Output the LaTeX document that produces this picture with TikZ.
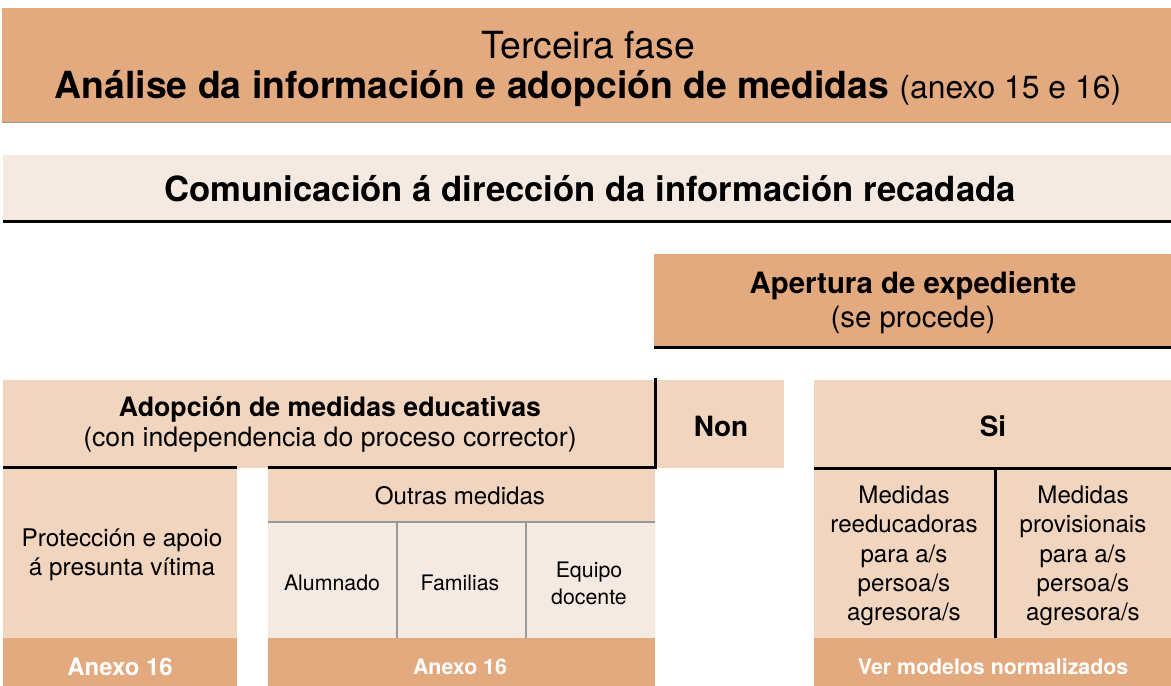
\documentclass[tikz,border=0pt]{standalone}
\usepackage{fontspec}
\setmainfont{TeX Gyre Heros}
\definecolor{dark}{HTML}{E3AA80}
\definecolor{mid}{HTML}{F1D5BF}
\definecolor{light}{HTML}{F5EAE1}
\definecolor{grayline}{HTML}{999999}
\tikzset{
  txt/.style={inner sep=0pt, align=center, text=black},
  wtxt/.style={inner sep=0pt, align=center, text=white},
  thick line/.style={line width=3bp, black},
  thin gray/.style={line width=1.2bp, grayline},
}
\begin{document}
\begin{tikzpicture}[x=1bp,y=-1bp]
\useasboundingbox (0,0) rectangle (1171,686);
% fills
\fill[dark]  (2,8) rectangle (1171,122);
\fill[light] (3,155) rectangle (1171,221);
\fill[dark]  (654,254) rectangle (1171,347);
\fill[mid]   (3,380) rectangle (655,468);
\fill[mid]   (657,380) rectangle (784,468);
\fill[mid]   (814,380) rectangle (1171,468);
\fill[mid]   (3,468) rectangle (237,638);
\fill[mid]   (268,468) rectangle (655,522);
\fill[light] (268,522) rectangle (655,638);
\fill[mid]   (814,468) rectangle (1171,638);
\fill[dark]  (3,638) rectangle (237,686);
\fill[dark]  (268,638) rectangle (655,686);
\fill[dark]  (814,638) rectangle (1171,686);
% lines
\coordinate (b1l) at (2,122.5); \coordinate (b1r) at (1171,122.5);
\draw[thin gray] (b1l) -- (b1r);
\coordinate (b2l) at (3,221); \coordinate (b2r) at (1171,221);
\draw[thick line] (b2l) -- (b2r);
\coordinate (apl) at (654,347); \coordinate (apr) at (1171,347);
\draw[thick line] (apl) -- (apr);
\coordinate (adt) at (655,378); \coordinate (adb) at (655,468.5);
\draw[thick line] (adt) -- (adb);
\coordinate (adl1) at (3,467); \coordinate (adr1) at (237,467);
\draw[thick line] (adl1) -- (adr1);
\coordinate (adl2) at (268,467); \coordinate (adr2) at (656.5,467);
\draw[thick line] (adl2) -- (adr2);
\coordinate (sil) at (814,468); \coordinate (sir) at (1171,468);
\draw[thick line] (sil) -- (sir);
\coordinate (sdt) at (995,468); \coordinate (sdb) at (995,638);
\draw[thick line] (sdt) -- (sdb);
\coordinate (ogl) at (268,522); \coordinate (ogr) at (655,522);
\draw[thin gray] (ogl) -- (ogr);
\coordinate (od1t) at (397,522); \coordinate (od1b) at (397,638);
\draw[thin gray] (od1t) -- (od1b);
\coordinate (od2t) at (526,522); \coordinate (od2b) at (526,638);
\draw[thin gray] (od2t) -- (od2b);
% texts
\node[txt, font=\fontsize{37.5}{44}\selectfont] (t1) at (588,45) {Terceira fase};
\node[txt] (t2) at (588,89) {\fontsize{37.5}{44}\selectfont\bfseries Análise da información e adopción de medidas {\mdseries\fontsize{32}{38}\selectfont(anexo 15 e 16)}};
\node[txt, font=\fontsize{34.8}{40}\selectfont\bfseries] (com) at (590,189) {Comunicación á dirección da información recadada};
\node[txt, font=\fontsize{29.5}{34}\selectfont\bfseries] (ap1) at (913,286) {Apertura de expediente};
\node[txt, font=\fontsize{29.5}{34}\selectfont] (ap2) at (913,320) {(se procede)};
\node[txt, font=\fontsize{26.8}{31}\selectfont\bfseries] (ad1) at (330,409) {Adopción de medidas educativas};
\node[txt, font=\fontsize{26.8}{31}\selectfont] (ad2) at (330,440) {(con independencia do proceso corrector)};
\node[txt, font=\fontsize{28}{32}\selectfont\bfseries] (non) at (721,426) {Non};
\node[txt, font=\fontsize{28}{32}\selectfont\bfseries] (si) at (993,426) {Si};
\node[txt, font=\fontsize{24.4}{29.5}\selectfont] (prot) at (122,555) {Protección e apoio\\á presunta vítima};
\node[txt, font=\fontsize{24.2}{28}\selectfont] (out) at (460,496) {Outras medidas};
\node[txt, font=\fontsize{21.4}{27}\selectfont] (alu) at (332,583) {Alumnado};
\node[txt, font=\fontsize{21.4}{27}\selectfont] (fam) at (460,583) {Familias};
\node[txt, font=\fontsize{21.4}{27}\selectfont] (eq) at (589,583) {Equipo\\docente};
\node[txt, font=\fontsize{24.2}{29.3}\selectfont] (mr) at (904,556) {Medidas\\reeducadoras\\para a/s\\persoa/s\\agresora/s};
\node[txt, font=\fontsize{24.2}{29.3}\selectfont] (mp) at (1083,556) {Medidas\\provisionais\\para a/s\\persoa/s\\agresora/s};
\node[wtxt, font=\fontsize{24}{28}\selectfont\bfseries] (an1) at (120,667) {Anexo 16};
\node[wtxt, font=\fontsize{21.4}{25}\selectfont\bfseries] (an2) at (460,667) {Anexo 16};
\node[wtxt, font=\fontsize{21.4}{25}\selectfont\bfseries] (ver) at (993,667) {Ver modelos normalizados};
\end{tikzpicture}
\end{document}
